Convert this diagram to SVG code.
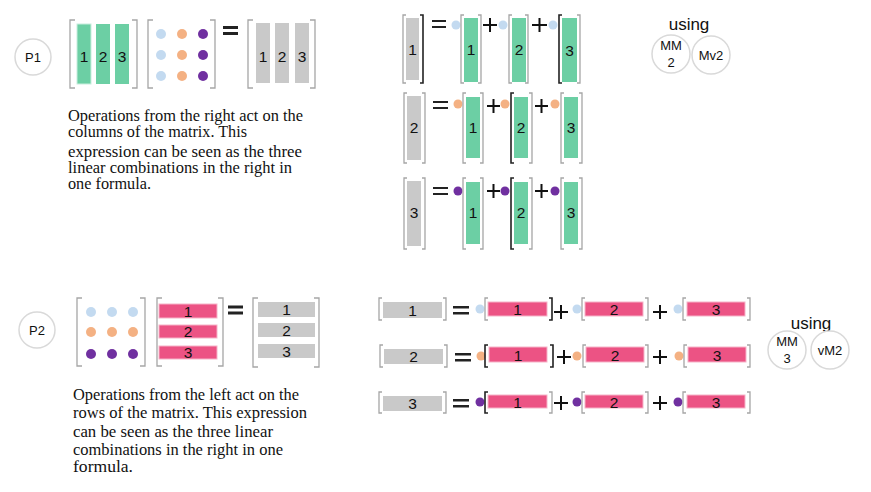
<svg xmlns="http://www.w3.org/2000/svg" width="871" height="492" viewBox="0 0 871 492">
<style>
.bg{fill:#ffffff}
.br{fill:none;stroke:#a6a6a6;stroke-width:1.3}
.bk{fill:none;stroke:#222;stroke-width:1.6}
.g{fill:#6ccfa4}
.gr{fill:#c9c9c9}
.pk{fill:#ec5384;stroke:#f6b3c8;stroke-width:1}
.lb{fill:#c3daf0}
.or{fill:#f4b183}
.pu{fill:#7030a0}
.eq{fill:#222}
.pl{stroke:#111;stroke-width:2;fill:none}
.num{font-family:"Liberation Sans",Arial,sans-serif;font-size:15.5px;fill:#111;text-anchor:middle}
.txt{font-family:"Liberation Serif","Times New Roman",serif;font-size:17px;fill:#111}
.cir{fill:#fff;stroke:#d9d9d9;stroke-width:1.5}
.lab{font-family:"Liberation Sans",Arial,sans-serif;font-size:13px;fill:#111;text-anchor:middle}
.use{font-family:"Liberation Sans",Arial,sans-serif;font-size:17px;fill:#111;text-anchor:middle}
</style>
<rect class="bg" x="0" y="0" width="871" height="492"/>

<!-- P1 section -->
<g id="p1-label">
<circle class="cir" cx="33" cy="57" r="18"/>
<text class="lab" x="33" y="61.5">P1</text>
</g>
<g id="p1-green-matrix">
<path class="br" d="M75 20H70V88H75M132 20H137V88H132"/>
<rect class="g" x="77" y="24" width="14" height="60" stroke="#c8eedd" stroke-width="1"/>
<rect class="g" x="96" y="24" width="14" height="60"/>
<rect class="g" x="115" y="24" width="14" height="60"/>
<text class="num" x="84" y="62">1</text>
<text class="num" x="103" y="62">2</text>
<text class="num" x="122" y="62">3</text>
</g>
<g id="p1-dot-matrix">
<path class="br" d="M153 20H148V88H153M210 20H215V88H210"/>
<circle class="lb" cx="161" cy="34" r="5"/><circle class="or" cx="182" cy="34" r="5"/><circle class="pu" cx="203" cy="34" r="5"/>
<circle class="lb" cx="161" cy="55" r="5"/><circle class="or" cx="182" cy="55" r="5"/><circle class="pu" cx="203" cy="55" r="5"/>
<circle class="lb" cx="161" cy="76" r="5"/><circle class="or" cx="182" cy="76" r="5"/><circle class="pu" cx="203" cy="76" r="5"/>
</g>
<g id="p1-equals">
<rect class="eq" x="223" y="26" width="15" height="3"/>
<rect class="eq" x="223" y="32" width="15" height="3"/>
</g>
<g id="p1-gray-matrix">
<path class="br" d="M253 20H248V88H253M310 20H315V88H310"/>
<rect class="gr" x="256" y="23" width="14" height="60"/>
<rect class="gr" x="275" y="23" width="14" height="60"/>
<rect class="gr" x="295" y="23" width="14" height="60"/>
<text class="num" x="263" y="62">1</text>
<text class="num" x="282" y="62">2</text>
<text class="num" x="302" y="62">3</text>
</g>
<g id="p1-text">
<text class="txt" x="68" y="121" textLength="235" lengthAdjust="spacingAndGlyphs">Operations from the right act on the</text>
<text class="txt" x="68" y="137" textLength="179" lengthAdjust="spacingAndGlyphs">columns of the matrix. This</text>
<text class="txt" x="68" y="157" textLength="234" lengthAdjust="spacingAndGlyphs">expression can be seen as the three</text>
<text class="txt" x="68" y="173" textLength="224" lengthAdjust="spacingAndGlyphs">linear combinations in the right in</text>
<text class="txt" x="68" y="189" textLength="83" lengthAdjust="spacingAndGlyphs">one formula.</text>
</g>

<!-- P1 column combinations -->
<g id="p1-row1">
<path class="br" d="M406 15H403V83H406"/>
<path class="bk" d="M420 15H423V83H420" stroke-width="2"/>
<rect class="gr" x="406" y="18" width="13" height="62"/>
<text class="num" x="412.5" y="55">1</text>
<rect class="eq" x="432" y="20" width="14" height="2"/>
<rect class="eq" x="432" y="26" width="14" height="2"/>
<circle class="lb" cx="456" cy="25" r="4.5"/>
<path class="br" d="M464 15H461V83H464M478 15H481V83H478"/>
<rect class="g" x="464" y="18" width="14" height="64"/>
<text class="num" x="471" y="55">1</text>
<path class="pl" d="M483 25H497M490 18V32"/>
<circle class="lb" cx="503" cy="25" r="4.5"/>
<path class="br" d="M512 15H509V83H512M525 15H528V83H525"/>
<rect class="g" x="512" y="18" width="14" height="64"/>
<text class="num" x="519" y="55">2</text>
<path class="pl" d="M532 25H547M539.5 18V32"/>
<circle class="lb" cx="553" cy="25" r="4.5"/>
<path class="bk" d="M562 15H559V83H562"/>
<path class="br" d="M577 15H580V83H577"/>
<rect class="g" x="562" y="18" width="15" height="64"/>
<text class="num" x="569.5" y="56">3</text>
</g>
<g id="p1-row2">
<path class="br" d="M407 93H404V163H407M422 93H425V163H422"/>
<rect class="gr" x="407" y="96" width="14" height="64"/>
<text class="num" x="414" y="133">2</text>
<rect class="eq" x="433" y="101" width="15" height="2"/>
<rect class="eq" x="433" y="107" width="15" height="2"/>
<circle class="or" cx="458" cy="104" r="4.5"/>
<path class="br" d="M466 93H463V163H466M480 93H483V163H480"/>
<rect class="g" x="466" y="97" width="14" height="61"/>
<text class="num" x="473" y="133">1</text>
<path class="pl" d="M487 106H500M493.5 99V113"/>
<circle class="or" cx="505" cy="104" r="4.5"/>
<path class="bk" d="M514 93H511V163H514"/>
<path class="br" d="M529 93H532V163H529"/>
<rect class="g" x="514" y="97" width="14" height="61"/>
<text class="num" x="521" y="133">2</text>
<path class="pl" d="M535 106H548M541.5 99V113"/>
<circle class="or" cx="555" cy="104" r="4.5"/>
<path class="br" d="M564 93H561V163H564M579 93H582V163H579"/>
<rect class="g" x="564" y="97" width="14" height="61"/>
<text class="num" x="571" y="133">3</text>
</g>
<g id="p1-row3">
<path class="br" d="M407 178H404V249H407M422 178H425V249H422"/>
<rect class="gr" x="407" y="181" width="14" height="65"/>
<text class="num" x="414" y="218">3</text>
<rect class="eq" x="433" y="187" width="15" height="2"/>
<rect class="eq" x="433" y="193" width="15" height="2"/>
<circle class="pu" cx="458" cy="191" r="4.5"/>
<path class="br" d="M466 178H463V249H466M480 178H483V249H480"/>
<rect class="g" x="466" y="182" width="14" height="62"/>
<text class="num" x="473" y="218">1</text>
<path class="pl" d="M487 191H500M493.5 184V198"/>
<circle class="pu" cx="505" cy="191" r="4.5"/>
<path class="bk" d="M514 178H511V249H514"/>
<path class="br" d="M529 178H532V249H529"/>
<rect class="g" x="514" y="182" width="14" height="62"/>
<text class="num" x="521" y="218">2</text>
<path class="pl" d="M535 191H548M541.5 184V198"/>
<circle class="pu" cx="555" cy="191" r="4.5"/>
<path class="br" d="M564 178H561V249H564M579 178H582V249H579"/>
<rect class="g" x="564" y="182" width="14" height="62"/>
<text class="num" x="571" y="218">3</text>
</g>
<g id="p1-using">
<text class="use" x="689" y="30">using</text>
<circle class="cir" cx="671" cy="54" r="19"/>
<text class="lab" x="671" y="50">MM</text>
<text class="lab" x="671" y="67">2</text>
<circle class="cir" cx="711" cy="55" r="19"/>
<text class="lab" x="711" y="59.5">Mv2</text>
</g>

<!-- P2 section -->
<g id="p2-label">
<circle class="cir" cx="37" cy="330" r="18"/>
<text class="lab" x="37" y="334.5">P2</text>
</g>
<g id="p2-dot-matrix">
<path class="br" d="M82 298H77V366H82M140 298H145V366H140"/>
<circle class="lb" cx="91" cy="312" r="5"/><circle class="lb" cx="112" cy="312" r="5"/><circle class="lb" cx="133" cy="312" r="5"/>
<circle class="or" cx="91" cy="332" r="5"/><circle class="or" cx="112" cy="332" r="5"/><circle class="or" cx="133" cy="332" r="5"/>
<circle class="pu" cx="91" cy="354" r="5"/><circle class="pu" cx="112" cy="354" r="5"/><circle class="pu" cx="133" cy="354" r="5"/>
</g>
<g id="p2-pink-matrix">
<path class="br" d="M162 298H157V366H162M218 298H223V366H218"/>
<rect class="pk" x="159" y="304" width="58" height="14"/>
<rect class="pk" x="159" y="325" width="58" height="13"/>
<rect class="pk" x="159" y="346" width="58" height="13"/>
<text class="num" x="188" y="316.5">1</text>
<text class="num" x="188" y="337">2</text>
<text class="num" x="188" y="358">3</text>
</g>
<g id="p2-equals">
<rect class="eq" x="228" y="305.5" width="15" height="3"/>
<rect class="eq" x="228" y="311.5" width="15" height="3"/>
</g>
<g id="p2-gray-matrix">
<path class="br" d="M258 298H253V367H258M314 298H319V367H314"/>
<rect class="gr" x="258" y="302" width="57" height="15"/>
<rect class="gr" x="258" y="323" width="57" height="14"/>
<rect class="gr" x="258" y="344" width="57" height="14"/>
<text class="num" x="286.5" y="315">1</text>
<text class="num" x="286.5" y="335.5">2</text>
<text class="num" x="286.5" y="356.5">3</text>
</g>
<g id="p2-text">
<text class="txt" x="73" y="400" textLength="226" lengthAdjust="spacingAndGlyphs">Operations from the left act on the</text>
<text class="txt" x="73" y="418" textLength="234" lengthAdjust="spacingAndGlyphs">rows of the matrix. This expression</text>
<text class="txt" x="73" y="437" textLength="200" lengthAdjust="spacingAndGlyphs">can be seen as the three linear</text>
<text class="txt" x="73" y="455" textLength="210" lengthAdjust="spacingAndGlyphs">combinations in the right in one</text>
<text class="txt" x="73" y="472" textLength="60" lengthAdjust="spacingAndGlyphs">formula.</text>
</g>

<!-- P2 row combinations -->
<g id="p2-row1">
<path class="br" d="M382 298H379V320H382M443 298H446V320H443"/>
<rect class="gr" x="383" y="302" width="59" height="16"/>
<text class="num" x="412.5" y="315.5">1</text>
<rect class="eq" x="453" y="306" width="16" height="2.5"/>
<rect class="eq" x="453" y="312" width="16" height="2.5"/>
<circle class="lb" cx="480" cy="309" r="4.5"/>
<path class="br" d="M488 298H485V320H488"/>
<path class="bk" d="M549 298H552V320H549" stroke-width="1.3"/>
<rect class="pk" x="488" y="302" width="59" height="14"/>
<text class="num" x="517.5" y="315">1</text>
<path class="pl" d="M554 312H568M561 305V319"/>
<circle class="lb" cx="577" cy="309" r="4.5"/>
<path class="br" d="M585 298H582V320H585M645 298H648V320H645"/>
<rect class="pk" x="585" y="302" width="58" height="14"/>
<text class="num" x="614" y="315">2</text>
<path class="pl" d="M653 312H667M660 305V319"/>
<circle class="lb" cx="678" cy="309" r="4.5"/>
<path class="br" d="M686 298H683V320H686M747 298H750V320H747"/>
<rect class="pk" x="687" y="302" width="58" height="14"/>
<text class="num" x="716" y="315">3</text>
</g>
<g id="p2-row2">
<path class="br" d="M383 345H380V367H383M444 345H447V367H444"/>
<rect class="gr" x="384" y="349" width="59" height="15"/>
<text class="num" x="413.5" y="362">2</text>
<rect class="eq" x="455" y="353" width="16" height="2.5"/>
<rect class="eq" x="455" y="359" width="16" height="2.5"/>
<circle class="or" cx="481" cy="356" r="4.5"/>
<path class="bk" d="M488 345H485V367H488M550 345H553V367H550" stroke-width="1.3"/>
<rect class="pk" x="489" y="347" width="58" height="15"/>
<text class="num" x="518" y="360.5">1</text>
<path class="pl" d="M557 357H571M564 350V364"/>
<circle class="or" cx="577" cy="356" r="4.5"/>
<path class="br" d="M586 345H583V367H586M645 345H648V367H645"/>
<rect class="pk" x="586" y="347" width="58" height="15"/>
<text class="num" x="615" y="360.5">2</text>
<path class="pl" d="M653 357H667M660 350V364"/>
<circle class="or" cx="679" cy="356" r="4.5"/>
<path class="br" d="M687 345H684V367H687M747 345H750V367H747"/>
<rect class="pk" x="688" y="347" width="58" height="15"/>
<text class="num" x="717" y="360.5">3</text>
</g>
<g id="p2-row3">
<path class="br" d="M382 392H379V413H382M443 392H446V413H443"/>
<rect class="gr" x="383" y="396" width="59" height="15"/>
<text class="num" x="412.5" y="409">3</text>
<rect class="eq" x="453" y="399" width="16" height="2.5"/>
<rect class="eq" x="453" y="405" width="16" height="2.5"/>
<circle class="pu" cx="480" cy="402" r="4.5"/>
<path class="bk" d="M488 392H485V413H488" stroke-width="1.3"/>
<path class="br" d="M549 392H552V413H549"/>
<rect class="pk" x="488" y="395" width="59" height="13"/>
<text class="num" x="517.5" y="407.5">1</text>
<path class="pl" d="M554 403H568M561 396V410"/>
<circle class="pu" cx="577" cy="402" r="4.5"/>
<path class="br" d="M585 392H582V413H585M645 392H648V413H645"/>
<rect class="pk" x="585" y="395" width="58" height="13"/>
<text class="num" x="614" y="407.5">2</text>
<path class="pl" d="M653 403H667M660 396V410" stroke-width="1.3"/>
<circle class="pu" cx="678" cy="402" r="4.5"/>
<path class="br" d="M686 392H683V413H686M747 392H750V413H747"/>
<rect class="pk" x="687" y="395" width="58" height="13"/>
<text class="num" x="716" y="407.5">3</text>
</g>
<g id="p2-using">
<text class="use" x="811" y="329">using</text>
<circle class="cir" cx="787" cy="350" r="19"/>
<text class="lab" x="787" y="346">MM</text>
<text class="lab" x="787" y="363">3</text>
<circle class="cir" cx="830" cy="350" r="19"/>
<text class="lab" x="830" y="354.5">vM2</text>
</g>
</svg>
